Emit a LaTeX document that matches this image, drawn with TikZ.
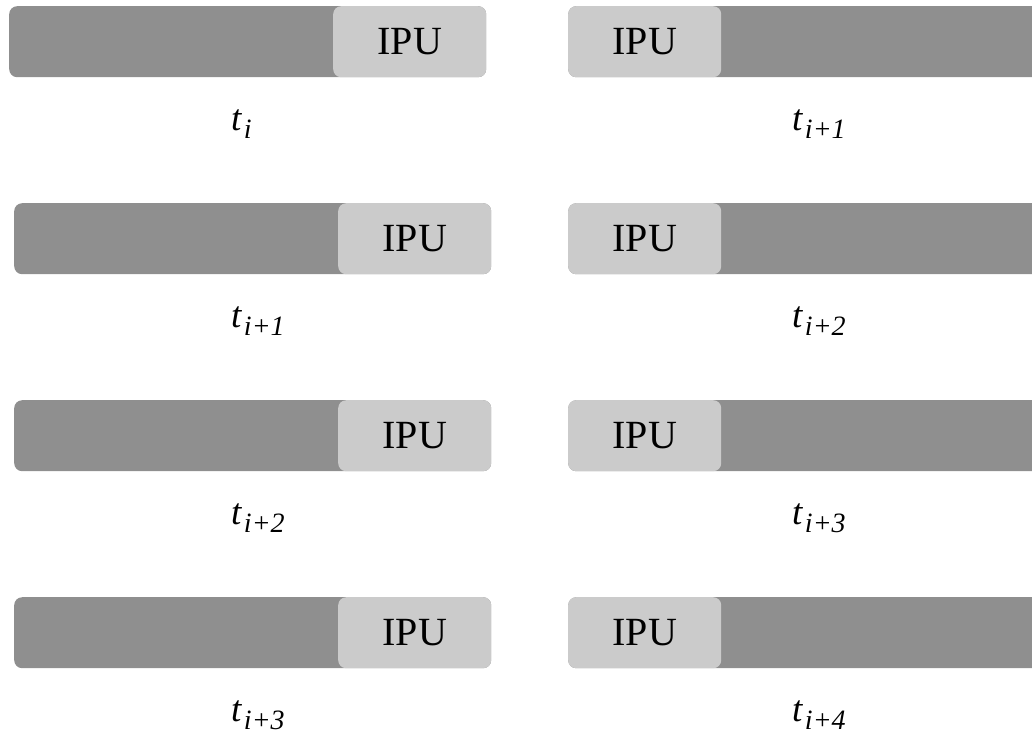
\documentclass[tikz,border=0pt]{standalone}
\usepackage{fontspec}
\setmainfont{Liberation Serif}
\definecolor{barDark}{RGB}{143,143,143}
\definecolor{barLight}{RGB}{203,203,203}
\newcommand\tsubx[1]{t\kern2.5pt\raisebox{-8pt}{\fontsize{28}{28}\selectfont #1}}
\begin{document}
\begin{tikzpicture}[x=1pt,y=-1pt,
 bar/.style={fill=barDark, draw=none, rounded corners=8pt, minimum height=71pt, inner sep=0pt, anchor=north west},
 ipu/.style={fill=barLight, draw=none, rounded corners=8pt, minimum width=153pt, minimum height=71pt, inner sep=0pt, anchor=north west, font=\fontsize{40}{40}\selectfont},
 tlab/.style={anchor=base west, inner sep=0pt, font=\fontsize{37}{37}\selectfont\itshape}]
\useasboundingbox (0,0) rectangle (1032,734);
\clip (0,0) rectangle (1032,734);
\foreach \r/\top/\lx/\la/\lb in {1/6/9/i/i+1, 2/203/14/i+1/i+2, 3/400/14/i+2/i+3, 4/597/14/i+3/i+4} {
  \node[bar, minimum width=477pt] (dL\r) at (\lx,\top) {};
  \node[ipu] (uL\r) at (\lx+324,\top) {IPU};
  \node[bar, minimum width=490pt] (dR\r) at (568,\top) {};
  \node[ipu] (uR\r) at (568,\top) {IPU};
  \node[tlab] (tL\r) at (231,\top+124) {\tsubx{\la}};
  \node[tlab] (tR\r) at (792,\top+124) {\tsubx{\lb}};
}
\end{tikzpicture}
\end{document}
